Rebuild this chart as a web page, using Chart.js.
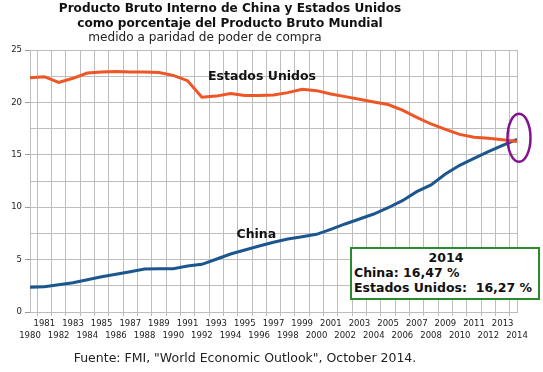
<!DOCTYPE html>
<html>
<head>
<meta charset="utf-8">
<script src="https://cdn.jsdelivr.net/npm/chart.js@4"></script>
<style>
  html, body { margin: 0; padding: 0; background: #fff; }
  #wrap { position: relative; width: 543px; height: 372px; font-family: 'DejaVu Sans', sans-serif; }
  #myChart { position: absolute; left: 0; top: 0; }
  .txt { position: absolute; white-space: nowrap; color: #111; }
  #t1, #t2 { font-weight: bold; font-size: 12.1px; width: 460px; left: 0; text-align: center; }
  #t1 { top: 1px; }
  #t2 { top: 16px; }
  #t3 { font-size: 12.1px; width: 410px; left: 0; text-align: center; top: 30px; color: #222; }
  #src { font-size: 12.5px; width: 490px; left: 0; text-align: center; top: 350px; color: #222; }
  #box { position: absolute; left: 350px; top: 247px; width: 184px; height: 48px; border: 2px solid #2b8a2b;
         background: #fff; font-weight: bold; font-size: 12.5px; line-height: 15px; padding: 1px 0 0 2px; color: #111; }
</style>
</head>
<body>
<div id="wrap">
  <canvas id="myChart" width="543" height="372"></canvas>
  <div class="txt" id="t1">Producto Bruto Interno de China y Estados Unidos</div>
  <div class="txt" id="t2">como porcentaje del Producto Bruto Mundial</div>
  <div class="txt" id="t3">medido a paridad de poder de compra</div>
  <div class="txt" id="src">Fuente: FMI, "World Economic Outlook", October 2014.</div>
  <div id="box"></div>
</div>
<script>
const years = [
  '1980', '1981', '1982', '1983', '1984', '1985', '1986', '1987', '1988', '1989',
  '1990', '1991', '1992', '1993', '1994', '1995', '1996', '1997', '1998', '1999',
  '2000', '2001', '2002', '2003', '2004', '2005', '2006', '2007', '2008', '2009',
  '2010', '2011', '2012', '2013', '2014',
];
const usa = [
  22.36, 22.45, 21.9, 22.3, 22.8, 22.9, 22.95, 22.9, 22.9, 22.85,
  22.58, 22.07, 20.5, 20.6, 20.85, 20.65, 20.65, 20.7, 20.93, 21.25,
  21.12, 20.8, 20.55, 20.3, 20.04, 19.8, 19.27, 18.57, 17.94, 17.43,
  16.95, 16.67, 16.57, 16.44, 16.27,
];
const china = [
  2.35, 2.42, 2.6, 2.8, 3.08, 3.37, 3.6, 3.85, 4.1, 4.13,
  4.13, 4.39, 4.55, 5.03, 5.53, 5.92, 6.3, 6.65, 6.97, 7.19,
  7.41, 7.89, 8.4, 8.87, 9.35, 9.95, 10.62, 11.48, 12.12, 13.17,
  14.0, 14.65, 15.3, 15.9, 16.47,
];
const yTicks = [0, 5, 10, 15, 20, 25];

const gridColor = '#bdbdbd';
const fmt = (v) => v.toFixed(2).replace('.', ',') + ' %';

// recuadro con los valores del último año
const last = years.length - 1;
document.getElementById('box').innerHTML =
  '<div style="text-align:center">' + years[last] + '</div>' +
  '<div>China: ' + fmt(china[last]) + '</div>' +
  '<div>Estados Unidos:&nbsp; ' + fmt(usa[last]) + '</div>';

// etiquetas de las series, borde derecho y elipse
const extras = {
  id: 'extras',
  afterDatasetsDraw(chart) {
    const { ctx, chartArea, scales: { x, y } } = chart;
    ctx.save();
    ctx.strokeStyle = gridColor;
    ctx.lineWidth = 1;
    ctx.beginPath();
    ctx.moveTo(Math.round(chartArea.right) + 0.5, chartArea.top);
    ctx.lineTo(Math.round(chartArea.right) + 0.5, chartArea.bottom);
    ctx.stroke();

    ctx.fillStyle = '#111';
    ctx.font = 'bold 12.5px "DejaVu Sans"';
    ctx.textAlign = 'center';
    ctx.textBaseline = 'middle';
    ctx.fillText('Estados Unidos', x.getPixelForValue(16.2), y.getPixelForValue(22.4));
    ctx.fillText('China', x.getPixelForValue(15.8), y.getPixelForValue(7.4));

    ctx.strokeStyle = '#84148c';
    ctx.lineWidth = 2.5;
    ctx.beginPath();
    ctx.ellipse(x.getPixelForValue(last) + 2, y.getPixelForValue((usa[last] + china[last]) / 2 + 0.25), 11.5, 24, 0, 0, Math.PI * 2);
    ctx.stroke();
    ctx.restore();
  },
};

const config = {
  type: 'line',
  data: {
    labels: years,
    datasets: [
      {
        label: 'Estados Unidos',
        data: usa,
        borderColor: '#ee5626',
        borderWidth: 3,
        pointRadius: 0,
      },
      {
        label: 'China',
        data: china,
        borderColor: '#1b568f',
        borderWidth: 3,
        pointRadius: 0,
      },
    ],
  },
  options: {
    responsive: false,
    animation: false,
    layout: { padding: { top: 50, right: 26, left: 0, bottom: 0 } },
    plugins: {
      legend: { display: false },
      tooltip: { enabled: false },
    },
    scales: {
      x: {
        offset: false,
        grid: { offset: true, color: gridColor, tickLength: 4 },
        border: { color: gridColor },
        ticks: {
          autoSkip: false,
          maxRotation: 0,
          padding: 2,
          color: '#222',
          font: { family: 'DejaVu Sans', size: 8.5, lineHeight: 1.4 },
          callback: (v, i) => (i % 2 === 1 ? [years[i], ''] : ['', years[i]]),
        },
        afterFit: (s) => { s.height = 60; },
      },
      y: {
        min: 0,
        max: 25,
        grid: {
          color: gridColor,
          tickLength: 5,
          tickColor: (c) => (yTicks.includes(c.tick.value) ? '#999' : 'transparent'),
        },
        border: { color: gridColor },
        ticks: {
          stepSize: 2.5,
          padding: 3,
          color: '#222',
          font: { family: 'DejaVu Sans', size: 8.5 },
          callback: (v) => (yTicks.includes(v) ? v : ''),
        },
        afterFit: (s) => { s.width = 30; },
      },
    },
  },
  plugins: [extras],
};

const myChart = new Chart(document.getElementById('myChart'), config);
</script>
</body>
</html>
